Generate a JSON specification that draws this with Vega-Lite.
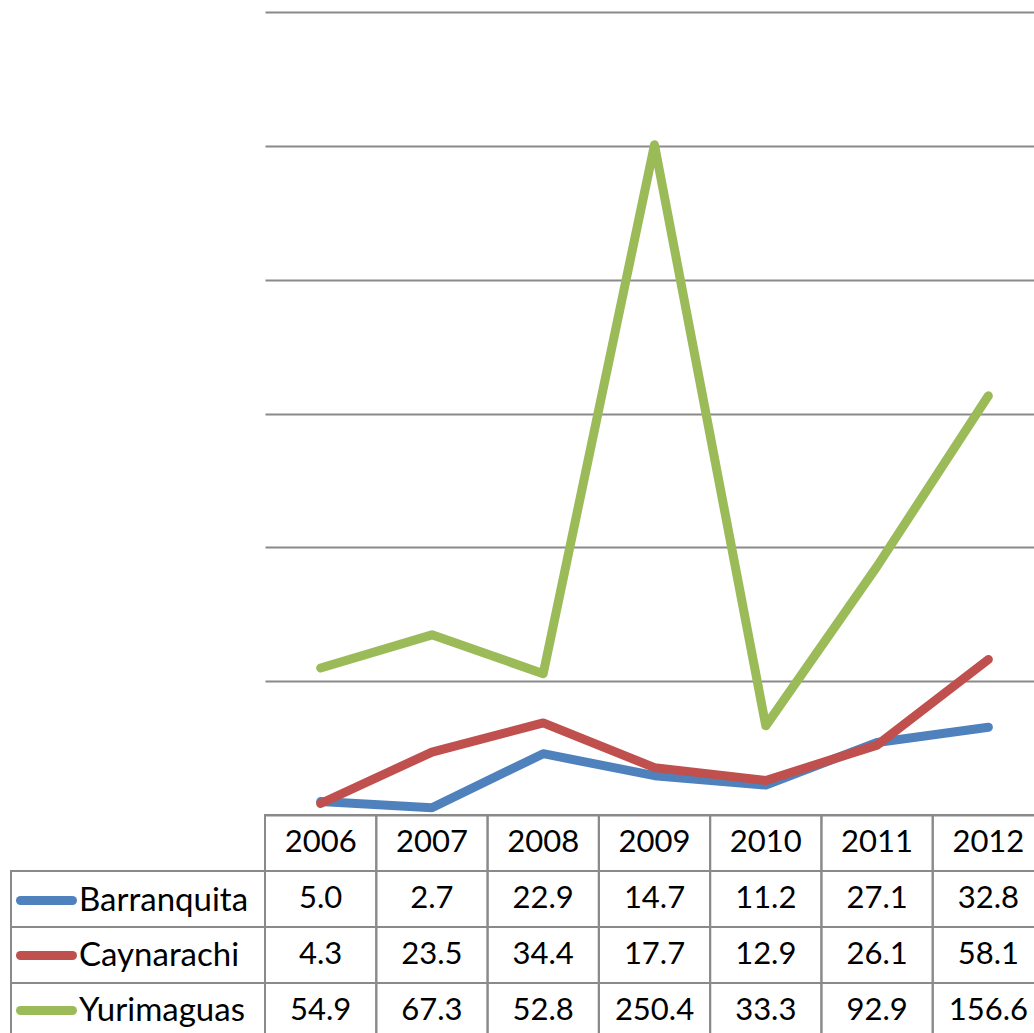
{
  "$schema": "https://vega.github.io/schema/vega-lite/v6.json",
  "padding": {"left": 10, "top": 12, "right": 0, "bottom": 0},
  "background": "white",
  "bounds": "flush",
  "spacing": 0,
  "columns": 2,
  "config": {"view": {"stroke": null}, "font": "Lato"},
  "datasets": {
    "d": [
      {"series": "Barranquita", "year": "2006", "value": 5.0},
      {"series": "Barranquita", "year": "2007", "value": 2.7},
      {"series": "Barranquita", "year": "2008", "value": 22.9},
      {"series": "Barranquita", "year": "2009", "value": 14.7},
      {"series": "Barranquita", "year": "2010", "value": 11.2},
      {"series": "Barranquita", "year": "2011", "value": 27.1},
      {"series": "Barranquita", "year": "2012", "value": 32.8},
      {"series": "Caynarachi", "year": "2006", "value": 4.3},
      {"series": "Caynarachi", "year": "2007", "value": 23.5},
      {"series": "Caynarachi", "year": "2008", "value": 34.4},
      {"series": "Caynarachi", "year": "2009", "value": 17.7},
      {"series": "Caynarachi", "year": "2010", "value": 12.9},
      {"series": "Caynarachi", "year": "2011", "value": 26.1},
      {"series": "Caynarachi", "year": "2012", "value": 58.1},
      {"series": "Yurimaguas", "year": "2006", "value": 54.9},
      {"series": "Yurimaguas", "year": "2007", "value": 67.3},
      {"series": "Yurimaguas", "year": "2008", "value": 52.8},
      {"series": "Yurimaguas", "year": "2009", "value": 250.4},
      {"series": "Yurimaguas", "year": "2010", "value": 33.3},
      {"series": "Yurimaguas", "year": "2011", "value": 92.9},
      {"series": "Yurimaguas", "year": "2012", "value": 156.6}
    ]
  },
  "concat": [
    {
      "width": 254,
      "height": 803,
      "data": {"values": [{}]},
      "mark": {"type": "point", "opacity": 0}
    },
    {
      "width": 779,
      "height": 803,
      "data": {"name": "d"},
      "mark": {"type": "line", "strokeWidth": 9, "strokeCap": "round", "strokeJoin": "round"},
      "encoding": {
        "x": {"field": "year", "type": "ordinal", "scale": {"type": "point", "padding": 0.5}, "axis": null},
        "y": {
          "field": "value", "type": "quantitative",
          "scale": {"domain": [0, 300], "nice": false},
          "axis": {"values": [0, 50, 100, 150, 200, 250, 300], "labels": false, "ticks": false, "domain": false, "grid": true, "gridColor": "#8a8a8a", "gridWidth": 2, "title": null}
        },
        "color": {
          "field": "series", "type": "nominal",
          "scale": {"domain": ["Barranquita", "Caynarachi", "Yurimaguas"], "range": ["#4F81BD", "#C0504D", "#9BBB59"]},
          "legend": {
            "orient": "none", "legendX": 5, "legendY": 858, "title": null,
            "symbolType": "stroke", "symbolSize": 2704, "symbolStrokeWidth": 9, "symbolOpacity": 1,
            "labelFont": "Lato", "labelFontSize": 33, "labelColor": "black", "labelOffset": 2, "labelLimit": 0,
            "rowPadding": 6, "padding": 0, "offset": 0, "direction": "vertical",
            "encode": {"symbols": {"update": {"strokeCap": {"value": "round"}}}}
          }
        }
      }
    },
    {
      "width": 254,
      "height": 224,
      "data": {"name": "d"},
      "transform": [{"filter": "datum.year == '2006'"}],
      "mark": {"type": "rect", "filled": false, "stroke": "#8a8a8a", "strokeWidth": 2},
      "encoding": {
        "y": {"field": "series", "type": "nominal", "scale": {"domain": ["hdr", "Barranquita", "Caynarachi", "Yurimaguas"], "paddingInner": 0, "paddingOuter": 0}, "axis": null}
      }
    },
    {
      "width": 779,
      "height": 224,
      "encoding": {
        "x": {"field": "year", "type": "ordinal", "scale": {"type": "band", "paddingInner": 0, "paddingOuter": 0}, "axis": null}
      },
      "layer": [
        {
          "data": {"name": "d"},
          "mark": {"type": "rect", "filled": false, "stroke": "#8a8a8a", "strokeWidth": 2},
          "encoding": {
            "y": {"field": "series", "type": "nominal", "scale": {"domain": ["hdr", "Barranquita", "Caynarachi", "Yurimaguas"], "paddingInner": 0, "paddingOuter": 0}, "axis": null}
          }
        },
        {
          "data": {"name": "d"},
          "mark": {"type": "text", "fontSize": 31, "font": "Lato", "color": "black"},
          "encoding": {
            "y": {"field": "series", "type": "nominal", "axis": null},
            "text": {"field": "value", "type": "quantitative", "format": ".1f"}
          }
        },
        {
          "data": {"name": "d"},
          "transform": [{"filter": "datum.series == 'Barranquita'"}],
          "mark": {"type": "rect", "filled": false, "stroke": "#8a8a8a", "strokeWidth": 2},
          "encoding": {"y": {"datum": "hdr", "type": "nominal", "axis": null}}
        },
        {
          "data": {"name": "d"},
          "transform": [{"filter": "datum.series == 'Barranquita'"}],
          "mark": {"type": "text", "fontSize": 31, "font": "Lato", "color": "black"},
          "encoding": {
            "y": {"datum": "hdr", "type": "nominal", "axis": null},
            "text": {"field": "year", "type": "nominal"}
          }
        }
      ]
    }
  ]
}
